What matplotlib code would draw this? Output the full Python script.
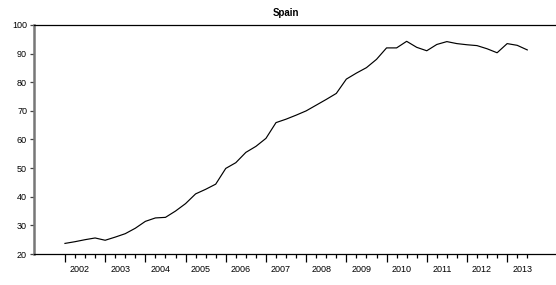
import matplotlib
matplotlib.use("Agg")
import matplotlib.pyplot as plt
from matplotlib import font_manager

names = {f.name for f in font_manager.fontManager.ttflist}
fam = ['Liberation Sans Narrow', 'Liberation Sans', 'DejaVu Sans']
fam = [f for f in fam if f in names] or ['DejaVu Sans']
plt.rcParams['font.family'] = fam

title = "Spain"
years = ["2002", "2003", "2004", "2005", "2006", "2007", "2008",
         "2009", "2010", "2011", "2012", "2013"]
values = [23.7, 24.3, 25.0, 25.6,
          24.8, 25.9, 27.1, 29.0,
          31.4, 32.6, 32.8, 35.0,
          37.6, 41.0, 42.6, 44.4,
          49.9, 51.9, 55.5, 57.6,
          60.4, 65.9, 67.1, 68.5,
          70.0, 72.0, 74.0, 76.1,
          81.1, 83.2, 85.1, 88.0,
          92.0, 92.0, 94.3, 92.2,
          91.0, 93.2, 94.2, 93.5,
          93.1, 92.8, 91.7, 90.3,
          93.5, 92.9, 91.3]
yticks = [20, 30, 40, 50, 60, 70, 80, 90, 100]

q = list(range(len(values)))

fig = plt.figure(figsize=(5.56, 2.85), dpi=100)
ax = fig.add_axes([34/556, 1-254/285, 1-34/556, (254-25)/285])
ax.plot(q, values, color='black', lw=0.85)

ax.set_xlim(-3.08, 48.86)
ax.set_ylim(20, 100)
ax.set_yticks(yticks)
ax.set_yticklabels([str(v) for v in yticks])

ax.set_xticks(list(range(0, len(values), 4)))
ax.set_xticklabels([])
ax.set_xticks([i for i in q if i % 4], minor=True)
ax.tick_params(axis='x', which='major', direction='out', length=6, width=0.9, color='black')
ax.tick_params(axis='x', which='minor', direction='out', length=3, width=0.9, color='black')
ax.tick_params(axis='y', direction='out', length=3, width=0.9, labelsize=6.5, pad=2, color='#444444')

sec = ax.secondary_xaxis('bottom')
sec.set_xticks([4*k + 1.5 for k in range(len(years))])
sec.set_xticklabels(years)
sec.tick_params(length=0, labelsize=6.5, pad=8)
for s in sec.spines.values():
    s.set_visible(False)

ax.spines['right'].set_visible(False)
ax.spines['top'].set_linewidth(0.9)
ax.spines['bottom'].set_linewidth(0.9)
ax.spines['left'].set_color('#777777')
ax.spines['left'].set_linewidth(1.8)

fig.text(286/556, 1-13/285, title, ha='center', va='center', fontsize=7, fontweight='bold')

fig.savefig("out.png", dpi=100)
